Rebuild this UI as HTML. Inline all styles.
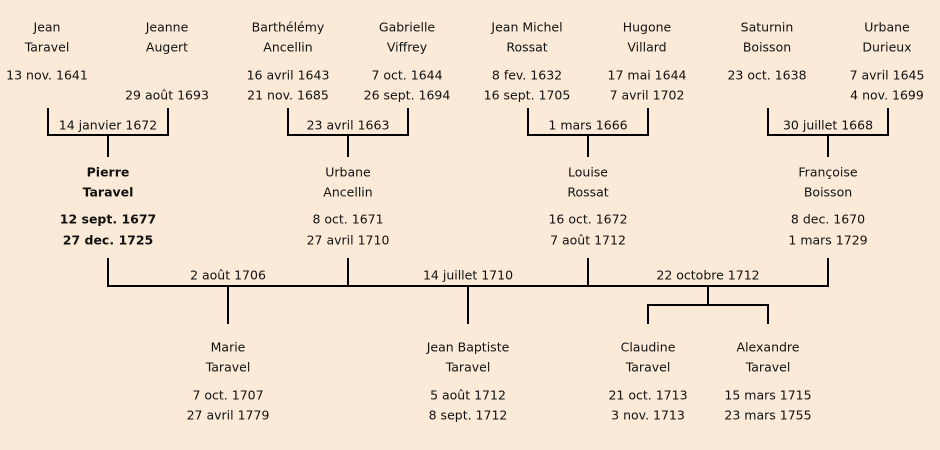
<!DOCTYPE html>
<html><head><meta charset="utf-8"><style>
body{margin:0;width:940px;height:450px;background:#fbead8;position:relative;overflow:hidden;font-family:"DejaVu Sans","Liberation Sans",sans-serif;font-size:12.5px;color:#111;}
.t{position:absolute;transform:translate(-50%,-50%);white-space:nowrap;}
.b{font-weight:bold;}
svg{position:absolute;left:0;top:0;}
</style></head><body>
<svg width="940" height="450" stroke="#000" stroke-width="2" fill="none">
<path d="M48 108V135H168V108M108 135V157"/>
<path d="M288 108V135H408V108M348 135V157"/>
<path d="M528 108V135H648V108M588 135V157"/>
<path d="M768 108V135H888V108M828 135V157"/>
<path d="M108 258V286H828V258M348 258V286M588 258V286"/>
<path d="M228 286V324M468 286V324M708 286V305M648 324V305H768V324"/>
</svg>
<div class="t" style="left:47px;top:27px">Jean</div><div class="t" style="left:47px;top:47px">Taravel</div>
<div class="t" style="left:167px;top:27px">Jeanne</div><div class="t" style="left:167px;top:47px">Augert</div>
<div class="t" style="left:288px;top:27px">Barthélémy</div><div class="t" style="left:288px;top:47px">Ancellin</div>
<div class="t" style="left:407px;top:27px">Gabrielle</div><div class="t" style="left:407px;top:47px">Viffrey</div>
<div class="t" style="left:527px;top:27px">Jean Michel</div><div class="t" style="left:527px;top:47px">Rossat</div>
<div class="t" style="left:647px;top:27px">Hugone</div><div class="t" style="left:647px;top:47px">Villard</div>
<div class="t" style="left:767px;top:27px">Saturnin</div><div class="t" style="left:767px;top:47px">Boisson</div>
<div class="t" style="left:887px;top:27px">Urbane</div><div class="t" style="left:887px;top:47px">Durieux</div>
<div class="t" style="left:47px;top:75px">13 nov. 1641</div>
<div class="t" style="left:167px;top:95px">29 août 1693</div>
<div class="t" style="left:288px;top:75px">16 avril 1643</div><div class="t" style="left:288px;top:95px">21 nov. 1685</div>
<div class="t" style="left:407px;top:75px">7 oct. 1644</div><div class="t" style="left:407px;top:95px">26 sept. 1694</div>
<div class="t" style="left:527px;top:75px">8 fev. 1632</div><div class="t" style="left:527px;top:95px">16 sept. 1705</div>
<div class="t" style="left:647px;top:75px">17 mai 1644</div><div class="t" style="left:647px;top:95px">7 avril 1702</div>
<div class="t" style="left:767px;top:75px">23 oct. 1638</div>
<div class="t" style="left:887px;top:75px">7 avril 1645</div><div class="t" style="left:887px;top:95px">4 nov. 1699</div>
<div class="t" style="left:108px;top:125px">14 janvier 1672</div>
<div class="t" style="left:348px;top:125px">23 avril 1663</div>
<div class="t" style="left:588px;top:125px">1 mars 1666</div>
<div class="t" style="left:828px;top:125px">30 juillet 1668</div>
<div class="t b" style="left:108px;top:172px">Pierre</div><div class="t b" style="left:108px;top:192px">Taravel</div>
<div class="t b" style="left:108px;top:219px">12 sept. 1677</div><div class="t b" style="left:108px;top:240px">27 dec. 1725</div>
<div class="t" style="left:348px;top:172px">Urbane</div><div class="t" style="left:348px;top:192px">Ancellin</div>
<div class="t" style="left:348px;top:219px">8 oct. 1671</div><div class="t" style="left:348px;top:240px">27 avril 1710</div>
<div class="t" style="left:588px;top:172px">Louise</div><div class="t" style="left:588px;top:192px">Rossat</div>
<div class="t" style="left:588px;top:219px">16 oct. 1672</div><div class="t" style="left:588px;top:240px">7 août 1712</div>
<div class="t" style="left:828px;top:172px">Françoise</div><div class="t" style="left:828px;top:192px">Boisson</div>
<div class="t" style="left:828px;top:219px">8 dec. 1670</div><div class="t" style="left:828px;top:240px">1 mars 1729</div>
<div class="t" style="left:228px;top:275px">2 août 1706</div>
<div class="t" style="left:468px;top:275px">14 juillet 1710</div>
<div class="t" style="left:708px;top:275px">22 octobre 1712</div>
<div class="t" style="left:228px;top:347px">Marie</div><div class="t" style="left:228px;top:367px">Taravel</div>
<div class="t" style="left:228px;top:395px">7 oct. 1707</div><div class="t" style="left:228px;top:415px">27 avril 1779</div>
<div class="t" style="left:468px;top:347px">Jean Baptiste</div><div class="t" style="left:468px;top:367px">Taravel</div>
<div class="t" style="left:468px;top:395px">5 août 1712</div><div class="t" style="left:468px;top:415px">8 sept. 1712</div>
<div class="t" style="left:648px;top:347px">Claudine</div><div class="t" style="left:648px;top:367px">Taravel</div>
<div class="t" style="left:648px;top:395px">21 oct. 1713</div><div class="t" style="left:648px;top:415px">3 nov. 1713</div>
<div class="t" style="left:768px;top:347px">Alexandre</div><div class="t" style="left:768px;top:367px">Taravel</div>
<div class="t" style="left:768px;top:395px">15 mars 1715</div><div class="t" style="left:768px;top:415px">23 mars 1755</div>
</body></html>
